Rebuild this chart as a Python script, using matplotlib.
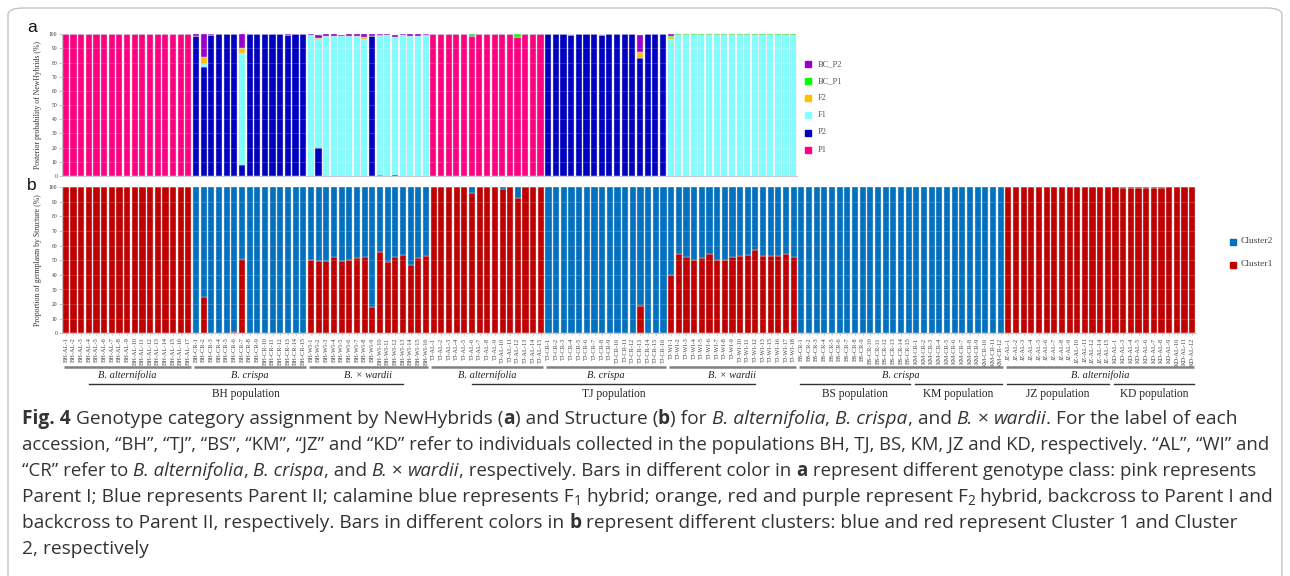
import matplotlib
matplotlib.use("Agg")
import matplotlib.pyplot as plt
import matplotlib.transforms as mtransforms
from matplotlib.patches import Rectangle, FancyBboxPatch
import numpy as np

W, H = 1290, 576

# ---------------- accession labels ----------------
bh_al = list(range(1, 18))
bh_cr = list(range(1, 16))
bh_wi = list(range(1, 17))
tj_al = list(range(1, 16))
tj_cr = list(range(1, 17))
tj_wi = [1, 2, 3, 4, 5, 6, 7, 8, 9, 10, 11, 12, 13, 15, 16, 17, 18]
bs_cr = list(range(1, 16))
km_cr = list(range(1, 13))
jz_al = [1, 2, 3, 4, 5, 6, 7, 8, 9, 10, 11, 12, 14, 15]
kd_al = [1, 3, 4, 5, 6, 7, 8, 9, 10, 11, 12]

groups = [("BH-AL", bh_al), ("BH-CR", bh_cr), ("BH-WI", bh_wi),
          ("TJ-AL", tj_al), ("TJ-CR", tj_cr), ("TJ-WI", tj_wi),
          ("BS-CR", bs_cr), ("KM-CR", km_cr), ("JZ-AL", jz_al), ("KD-AL", kd_al)]

# ---------------- panel a: NewHybrids (BH and TJ only) ----------------
p1 = ([100] * 17 + [0] * 15
      + [0, 0, 0, 0, 0, 0, 0, 0, 0, 1, 0, 0, 0, 0, 0, 0]
      + [100, 100, 100, 100, 100, 98.5, 100, 100, 100, 100, 100, 98, 100, 100, 100]
      + [0] * 16 + [0] * 17)
p2 = ([0] * 17
      + [99, 77, 99.5, 100, 100, 100, 8, 100, 100, 100, 100, 100, 99.5, 100, 100]
      + [0, 20, 0, 0, 0, 0, 0, 0, 99, 0, 0, 1, 0, 0, 0, 0]
      + [0] * 15
      + [100, 100, 100, 99.5, 100, 100, 100, 99.5, 100, 100, 100, 100, 83, 100, 100, 100]
      + [0] * 17)
f1 = ([0] * 17
      + [0, 2, 0, 0, 0, 0, 79, 0, 0, 0, 0, 0, 0, 0, 0]
      + [99.5, 77, 99, 99, 99, 99, 99, 97, 0, 98, 99.5, 97, 99.5, 99, 99, 99.5]
      + [0] * 15
      + [0] * 12 + [0.5] + [0] * 3
      + [97] + [99.5] * 16)
f2 = ([0] * 17
      + [0, 5, 0, 0, 0, 0, 3, 0, 0, 0, 0, 0, 0, 0, 0]
      + [0, 0.5, 0, 0, 0, 0, 0, 1, 0, 0, 0, 0, 0, 0, 0, 0]
      + [0] * 15
      + [0] * 12 + [4] + [0] * 3
      + [1] + [0] * 16)
bc_p1 = ([0] * 17 + [0] * 15
         + [0, 0, 0, 0, 0, 0, 0, 0, 0, 0.5, 0, 0, 0, 0, 0, 0]
         + [0, 0, 0, 0, 0, 1.5, 0, 0, 0, 0, 0, 2, 0, 0, 0]
         + [0] * 16
         + [1] + [0.5] * 16)
bc_p2 = ([0] * 17
         + [1, 16, 0.5, 0, 0, 0, 10, 0, 0, 0, 0, 0, 0.5, 0, 0]
         + [0.5, 2, 1, 1, 0.5, 1, 1, 2, 1, 0.5, 0.5, 1.5, 0.5, 1, 1, 0.5]
         + [0] * 15
         + [0] * 12 + [12] + [0] * 3
         + [1] + [0] * 16)

nh_classes = ["P1", "P2", "F1", "F2", "BC_P1", "BC_P2"]
nh_colors = ["#FF0080", "#0000C0", "#80FFFF", "#FFC000", "#00FF00", "#9900CC"]

# ---------------- panel b: Structure, Cluster1 share (%) ----------------
cluster1 = ([100] * 17
            + [0, 25, 0, 0, 0, 1, 51, 0, 0, 0, 0, 0, 0, 0, 0]
            + [50, 49.5, 49.5, 52.5, 49.5, 50.5, 51.5, 52.5, 18, 56, 49, 52, 53.5, 47, 51.5, 53]
            + [100, 100, 100, 100, 100, 96, 100, 100, 100, 98.5, 100, 93, 100, 100, 100]
            + [0] * 12 + [19] + [0] * 3
            + [40, 54.5, 52, 50, 51.5, 54, 50.5, 50.5, 52, 53, 53.5, 57, 53, 53, 53, 54.5, 52.5]
            + [0] * 15 + [0] * 12
            + [100] * 14
            + [100, 99.5, 99.5, 99.5, 99.5, 99.5, 99.5, 100, 100, 100, 100])
cluster2 = [100 - v for v in cluster1]
st_colors = {"Cluster1": "#C00000", "Cluster2": "#0070C0"}

species_rows = [("B. alternifolia", 1), ("B. crispa", 1), ("B. × wardii", 1),
                ("B. alternifolia", 1), ("B. crispa", 1), ("B. × wardii", 1),
                ("B. crispa", 2), ("B. alternifolia", 2)]
populations = ["BH population", "TJ population", "BS population",
               "KM population", "JZ population", "KD population"]

# ---------------- figure ----------------
serif = "Liberation Serif"
fig = plt.figure(figsize=(W / 100, H / 100), dpi=100)


def fx(x):
    return x / W


def fy(y):
    return 1 - y / H


fig.patches.append(FancyBboxPatch((fx(8), fy(600)), fx(1274), (600 - 8) / H,
                                  boxstyle="round,pad=0,rounding_size=0.012",
                                  transform=fig.transFigure, fill=False,
                                  edgecolor="#c4c4c4", lw=1.0))

ax_a = fig.add_axes([fx(62), fy(176), 735 / W, (176 - 34.3) / H])
ax_b = fig.add_axes([fx(62), fy(333.3), 1134 / W, (333.3 - 187.3) / H])

# panel a bars
na = len(p1)
xa = np.arange(na)
bottom = np.zeros(na)
for vals, col in zip([p1, p2, f1, f2, bc_p1, bc_p2], nh_colors):
    ax_a.bar(xa, vals, width=0.8, bottom=bottom, color=col,
             edgecolor="#d6d6ea", linewidth=0.3)
    bottom += np.array(vals)
ax_a.set_xlim(-0.5, na - 0.5)
ax_a.set_xticks([])

# panel b bars
labels = [f"{p}-{n}" for p, nums in groups for n in nums]
nb = len(labels)
xb = np.arange(nb)
ax_b.bar(xb, cluster1, width=0.8, color=st_colors["Cluster1"],
         edgecolor="#dcdcdc", linewidth=0.3)
ax_b.bar(xb, cluster2, width=0.8, bottom=cluster1, color=st_colors["Cluster2"],
         edgecolor="#dcdcdc", linewidth=0.3)
ax_b.set_xlim(-0.5, nb - 0.5)
ax_b.set_xticks(xb)
ax_b.set_xticklabels(labels, rotation=90, fontsize=4.6, family=serif, color="#444")
ax_b.tick_params(axis="x", length=1.5, width=0.4, color="#999", pad=1.5)

for ax, ylab in [(ax_a, "Posterior probability of NewHybrids (%)"),
                 (ax_b, "Proportion of germplasm by Structure (%)")]:
    ax.set_ylim(0, 100)
    ax.set_yticks(range(0, 101, 10))
    ax.tick_params(axis="y", labelsize=4, length=2, width=0.4, color="#999", pad=1.5,
                   labelcolor="#333")
    for t in ax.get_yticklabels():
        t.set_family(serif)
    for s in ["top", "right"]:
        ax.spines[s].set_visible(False)
    ax.spines["left"].set_color("#b8b8b8")
    ax.spines["bottom"].set_color("#c8c8dc")
    ax.spines["left"].set_linewidth(0.6)
    ax.spines["bottom"].set_linewidth(0.8)
    ax.set_ylabel(ylab, fontsize=5.6, family=serif, color="#333", labelpad=5)
    for v in range(10, 100, 10):
        ax.axhline(v, color="white", lw=0.5, alpha=0.25, zorder=3)

fig.text(fx(27), fy(32), "a", fontsize=12.5, family="Liberation Sans", color="#111")
fig.text(fx(27), fy(190), "b", fontsize=12.5, family="Liberation Sans", color="#111")

# legends
leg_a_y = [150, 132.5, 115, 98, 81, 64]
for name, col, y in zip(nh_classes, nh_colors, leg_a_y):
    fig.patches.append(Rectangle((fx(805), fy(y + 3)), 6 / W, 6 / H,
                                 transform=fig.transFigure, color=col))
    fig.text(fx(818), fy(y), name, fontsize=6, family=serif, color="#555", va="center")
for name, y in [("Cluster2", 241.5), ("Cluster1", 264.5)]:
    fig.patches.append(Rectangle((fx(1230), fy(y + 3)), 6 / W, 6 / H,
                                 transform=fig.transFigure, color=st_colors[name]))
    fig.text(fx(1241), fy(y), name, fontsize=6.8, family=serif, color="#444", va="center")

# group annotation rows under panel b
trans = mtransforms.blended_transform_factory(ax_b.transData, ax_b.transAxes)
sizes = [len(nums) for _, nums in groups]
edges = np.concatenate([[0], np.cumsum(sizes)])
i = 0
for name, k in species_rows:
    s, e = edges[i], edges[i + k]
    ax_b.plot([s - 0.3, e - 0.7], [-0.232, -0.232], transform=trans, clip_on=False,
              color="#808080", lw=1.8, solid_capstyle="butt")
    ax_b.text((s + e - 1) / 2, -0.29, name, transform=trans, ha="center", va="center",
              fontsize=7.5, style="italic", family=serif, color="#222")
    i += k

pop_spans = [(0, 3), (3, 6), (6, 7), (7, 8), (8, 9), (9, 10)]
pop_inset = [3.5, 5.5, 0.3, 0.3, 0.3, 0.3]
for name, (a, b), ins in zip(populations, pop_spans, pop_inset):
    s, e = edges[a], edges[b]
    ax_b.plot([s - 0.5 + ins, e - 0.5 - ins], [-0.345, -0.345], transform=trans,
              clip_on=False, color="#333", lw=1.0)
    ax_b.text((s + e - 1) / 2, -0.415, name, transform=trans, ha="center", va="center",
              fontsize=8.3, family=serif, color="#222")

# ---------------- caption ----------------
cap_lines = [
    [("Fig. 4", "b"), (" Genotype category assignment by NewHybrids (", "n"), ("a", "b"),
     (") and Structure (", "n"), ("b", "b"), (") for ", "n"), ("B. alternifolia", "i"),
     (", ", "n"), ("B. crispa", "i"), (", and ", "n"), ("B.", "i"), (" × ", "n"),
     ("wardii", "i"), (". For the label of each", "n")],
    [("accession, “BH”, “TJ”, “BS”, “KM”, “JZ” and “KD” refer to individuals collected in "
      "the populations BH, TJ, BS, KM, JZ and KD, respectively. “AL”, “WI” and", "n")],
    [("“CR” refer to ", "n"), ("B. alternifolia", "i"), (", ", "n"), ("B. crispa", "i"),
     (", and ", "n"), ("B.", "i"), (" × ", "n"), ("wardii", "i"),
     (", respectively. Bars in different color in ", "n"), ("a", "b"),
     (" represent different genotype class: pink represents", "n")],
    [("Parent I; Blue represents Parent II; calamine blue represents F", "n"), ("1", "sub"),
     (" hybrid; orange, red and purple represent F", "n"), ("2", "sub"),
     (" hybrid, backcross to Parent I and", "n")],
    [("backcross to Parent II, respectively. Bars in different colors in ", "n"), ("b", "b"),
     (" represent different clusters: blue and red represent Cluster 1 and Cluster", "n")],
    [("2, respectively", "n")],
]
# right end (px) of each caption line in the reference
cap_ends = [1236, 1266, 1252, 1272, 1237, None]

renderer = fig.canvas.get_renderer()
cap_font = "Open Sans"
cap_color = "#333333"


def seg_kw(style, size):
    kw = dict(fontsize=size, family=cap_font, color=cap_color, va="baseline", ha="left")
    if style == "b":
        kw["weight"] = "bold"
    if style == "i":
        kw["style"] = "italic"
    if style == "sub":
        kw["fontsize"] = size * 0.72
    return kw


def seg_width(text, style, size):
    kw = seg_kw(style, size)
    t1 = fig.text(0, 0, "|" + text + "|", **kw)
    t2 = fig.text(0, 0, "||", **kw)
    w = t1.get_window_extent(renderer).width - t2.get_window_extent(renderer).width
    t1.remove()
    t2.remove()
    return w


def line_width(segs, size):
    return sum(seg_width(s, st, size) for s, st in segs)


x0 = 22.0
base = 12.0
base = base * (cap_ends[0] - x0) / line_width(cap_lines[0], base)

for j, (segs, end) in enumerate(zip(cap_lines, cap_ends)):
    size = base
    if end is not None:
        fit = size * (end - x0) / line_width(segs, size)
        size = min(max(fit, base * 0.93), base * 1.03)
    x = x0
    y = 424 + 26 * j
    for s, st in segs:
        yy = y + (3 if st == "sub" else 0)
        fig.text(fx(x), fy(yy), s, **seg_kw(st, size))
        x += seg_width(s, st, size)

fig.savefig("out.png", dpi=100)
